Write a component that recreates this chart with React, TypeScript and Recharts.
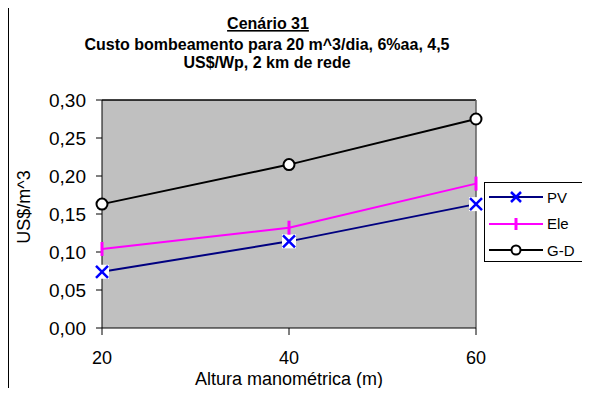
import React from 'react';
import { LineChart, Line, XAxis, YAxis, CartesianGrid, ReferenceLine } from 'recharts';

const heights = [20, 40, 60];
const pvCost = [0.074, 0.114, 0.163];
const eleCost = [0.104, 0.132, 0.19];
const gdCost = [0.163, 0.215, 0.275];
const yTicks = [0, 0.05, 0.1, 0.15, 0.2, 0.25, 0.3];
const seriesNames = ['PV', 'Ele', 'G-D'];

const data = heights.map((h, i) => ({
  h,
  pv: pvCost[i],
  ele: eleCost[i],
  gd: gdCost[i],
}));

const FONT = '"Liberation Sans", Arial, sans-serif';

const fmt = (v: number) => v.toFixed(2).replace('.', ',');

const PvDot = (props: any) => {
  const { cx, cy } = props;
  if (cx == null || cy == null) return null;
  return (
    <g>
      <rect x={cx - 7} y={cy - 7} width={14} height={14} fill="#fff" />
      <path d={`M${cx - 6},${cy - 6}L${cx + 6},${cy + 6}M${cx - 6},${cy + 6}L${cx + 6},${cy - 6}`} stroke="#0000ff" strokeWidth={2.5} />
    </g>
  );
};

const EleDot = (props: any) => {
  const { cx, cy } = props;
  if (cx == null || cy == null) return null;
  return <line x1={cx} x2={cx} y1={cy - 7} y2={cy + 7} stroke="#ff00ff" strokeWidth={3} />;
};

const GdDot = (props: any) => {
  const { cx, cy } = props;
  if (cx == null || cy == null) return null;
  return <circle cx={cx} cy={cy} r={5.5} fill="#fff" stroke="#000" strokeWidth={2} />;
};

const legendIcons = [
  (cx: number, cy: number) => (
    <g>
      <line x1={0} x2={54} y1={cy} y2={cy} stroke="#000080" strokeWidth={2} />
      <path d={`M${cx - 5},${cy - 5}L${cx + 5},${cy + 5}M${cx - 5},${cy + 5}L${cx + 5},${cy - 5}`} stroke="#0000ff" strokeWidth={2.5} />
    </g>
  ),
  (cx: number, cy: number) => (
    <g>
      <line x1={0} x2={54} y1={cy} y2={cy} stroke="#ff00ff" strokeWidth={2} />
      <line x1={cx} x2={cx} y1={cy - 6} y2={cy + 6} stroke="#ff00ff" strokeWidth={3} />
    </g>
  ),
  (cx: number, cy: number) => (
    <g>
      <line x1={0} x2={54} y1={cy} y2={cy} stroke="#000" strokeWidth={2} />
      <circle cx={cx} cy={cy} r={4.5} fill="#fff" stroke="#000" strokeWidth={2} />
    </g>
  ),
];

export default function App() {
  return (
    <div style={{ position: 'relative', margin: -8, width: 590, height: 396, overflow: 'hidden', background: '#fff', fontFamily: FONT }}>
      <div style={{ position: 'absolute', left: 7, top: 6, width: 640, height: 440, border: '2px solid #000', boxSizing: 'border-box' }} />
      <LineChart
        width={590}
        height={396}
        data={data}
        margin={{ top: 100, right: 114, bottom: 0, left: 0 }}
        style={{ position: 'absolute', left: 0, top: 0 }}
      >
        <CartesianGrid fill="#c0c0c0" horizontal={false} vertical={false} />
        <ReferenceLine y={0.3} stroke="#000" strokeWidth={1.5} />
        <ReferenceLine x={60} stroke="#606060" strokeWidth={1.5} />
        <XAxis
          dataKey="h"
          type="number"
          domain={[20, 60]}
          ticks={heights}
          height={68}
          tickSize={7}
          tickMargin={16}
          stroke="#000"
          tick={{ fill: '#000', fontSize: 18, fontFamily: FONT }}
          label={{ value: 'Altura manométrica (m)', position: 'insideBottom', offset: 11, fill: '#000', fontSize: 18, fontFamily: FONT }}
        />
        <YAxis
          type="number"
          domain={[0, 0.3]}
          ticks={yTicks}
          width={102}
          tickSize={6}
          tickMargin={10}
          stroke="#000"
          tickFormatter={fmt}
          tick={{ fill: '#000', fontSize: 19, fontFamily: FONT }}
          label={{
            content: (p: any) => {
              const vb = p.viewBox;
              const x = 24;
              const y = vb.y + vb.height / 2 - 7;
              return (
                <text x={x} y={y} transform={`rotate(-90, ${x}, ${y})`} textAnchor="middle" dominantBaseline="central" fontSize={18} fontFamily={FONT} fill="#000">
                  US$/m^3
                </text>
              );
            },
          }}
        />
        <Line dataKey="pv" name={seriesNames[0]} stroke="#000080" strokeWidth={2} dot={PvDot} isAnimationActive={false} />
        <Line dataKey="ele" name={seriesNames[1]} stroke="#ff00ff" strokeWidth={2} dot={EleDot} isAnimationActive={false} />
        <Line dataKey="gd" name={seriesNames[2]} stroke="#000" strokeWidth={2} dot={GdDot} isAnimationActive={false} />
      </LineChart>
      <svg width={590} height={90} style={{ position: 'absolute', left: 0, top: 0 }}>
        <text x={268} y={29} textAnchor="middle" fontSize={16} fontWeight="bold" fontFamily={FONT} textDecoration="underline">
          Cenário 31
        </text>
        <text x={267} y={50} textAnchor="middle" fontSize={16} fontWeight="bold" fontFamily={FONT}>
          Custo bombeamento para 20 m^3/dia, 6%aa, 4,5
        </text>
        <text x={267} y={68} textAnchor="middle" fontSize={16} fontWeight="bold" fontFamily={FONT}>
          US$/Wp, 2 km de rede
        </text>
      </svg>
      <div style={{ position: 'absolute', left: 484, top: 182, width: 99, height: 80, border: '1px solid #000', boxSizing: 'border-box', background: '#fff' }}>
        {seriesNames.map((name, i) => (
          <div key={name} style={{ position: 'absolute', left: 4, top: 1 + i * 26.7, height: 26, display: 'flex', alignItems: 'center' }}>
            <svg width={56} height={26}>{legendIcons[i](27, 13)}</svg>
            <span style={{ fontSize: 15, marginLeft: 2, color: '#000' }}>{name}</span>
          </div>
        ))}
      </div>
    </div>
  );
}
